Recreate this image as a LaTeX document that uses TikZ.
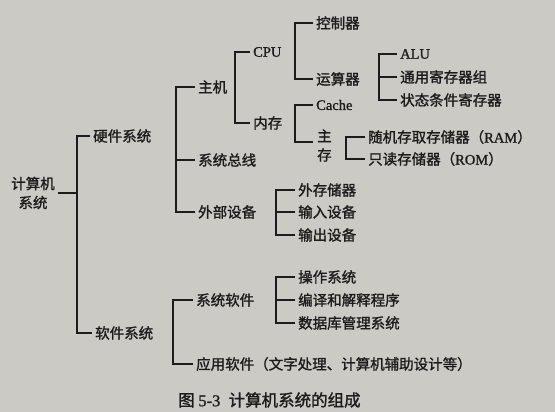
\documentclass[tikz,border=0pt]{standalone}
\usepackage{fontspec}
\newfontfamily\cjk{Noto Sans CJK SC}[FakeBold=1.4]
\newfontfamily\lat{Liberation Serif}[FakeBold=1.2]
\definecolor{paper}{RGB}{204,202,196}
\definecolor{ink}{RGB}{28,28,28}
\tikzset{
  item/.style={anchor=west,inner sep=3pt,text=ink,
    font=\cjk\fontsize{14.5}{19}\selectfont},
  link/.style={draw=ink,line width=1.4pt},
}
\begin{document}
\begin{tikzpicture}[x=1pt,y=-1pt]
    \fill[paper] (0,0) rectangle (555,412);
    \useasboundingbox (0,0) rectangle (555,412);

    % spines
    \coordinate (s0) at (77,0);
    \coordinate (s1) at (176,0);
    \coordinate (s2) at (173,0);
    \coordinate (s3) at (235,0);
    \coordinate (s4) at (295,0);
    \coordinate (s5) at (379,0);
    \coordinate (s6) at (295,0);
    \coordinate (s7) at (346,0);
    \coordinate (s8) at (276,0);
    \coordinate (s9) at (276,0);

    \node[item,anchor=center,align=center] (root) at (33,193) {计算机\\系统};

    \node[item] (hw) at (90,136) {硬件系统};
    \node[item] (sw) at (92,333) {软件系统};

    \node[item] (host) at (195,87) {主机};
    \node[item] (bus) at (195,160) {系统总线};
    \node[item] (ext) at (195,212) {外部设备};

    \node[item] (syssw) at (193,300) {系统软件};
    \node[item] (app) at (193,364) {应用软件（文字处理、计算机辅助设计等）};

    \node[item] (cpu) at (250,52) {\lat CPU};
    \node[item] (mem) at (250,123) {内存};

    \node[item] (ctrl) at (313,23) {控制器};
    \node[item] (calc) at (313,79) {运算器};

    \node[item] (alu) at (397,54) {\lat ALU};
    \node[item] (reg) at (397,77) {通用寄存器组};
    \node[item] (flag) at (397,100) {状态条件寄存器};

    \node[item] (cache) at (313,105) {\lat Cache};
    \node[item,align=center,inner xsep=4pt] (main) at (313,145.5) {主\\存};

    \node[item] (ram) at (365,137) {随机存取存储器（{\lat RAM}）};
    \node[item] (rom) at (365,159) {只读存储器（{\lat ROM}）};

    \node[item] (disk) at (295,190) {外存储器};
    \node[item] (input) at (295,212) {输入设备};
    \node[item] (output) at (295,235) {输出设备};

    \node[item] (os) at (295,277) {操作系统};
    \node[item] (comp) at (295,300) {编译和解释程序};
    \node[item] (db) at (295,323) {数据库管理系统};

    \node[item,font=\cjk\fontsize{16.5}{19}\selectfont] (cap) at (175,400) {图 {\lat 5-3}\enspace 计算机系统的组成};

    \draw[link] (root.east) -- (root.east -| s0);
    \draw[link] (hw.west) -- (hw.west -| s0) |- (sw.west);

    \draw[link] (host.west) -- (host.west -| s1) |- (ext.west);
    \draw[link] (bus.west) -- (bus.west -| s1);

    \draw[link] (syssw.west) -- (syssw.west -| s2) |- (app.west);

    \draw[link] (cpu.west) -- (cpu.west -| s3) |- (mem.west);

    \draw[link] (ctrl.west) -- (ctrl.west -| s4) |- (calc.west);

    \draw[link] (alu.west) -- (alu.west -| s5) |- (flag.west);
    \draw[link] (reg.west) -- (reg.west -| s5);

    \draw[link] (cache.west) -- (cache.west -| s6) |- ([yshift=3.5pt]main.west);

    \draw[link] (ram.west) -- (ram.west -| s7) |- (rom.west);

    \draw[link] (disk.west) -- (disk.west -| s8) |- (output.west);
    \draw[link] (input.west) -- (input.west -| s8);

    \draw[link] (os.west) -- (os.west -| s9) |- (db.west);
    \draw[link] (comp.west) -- (comp.west -| s9);

\end{tikzpicture}
\end{document}
